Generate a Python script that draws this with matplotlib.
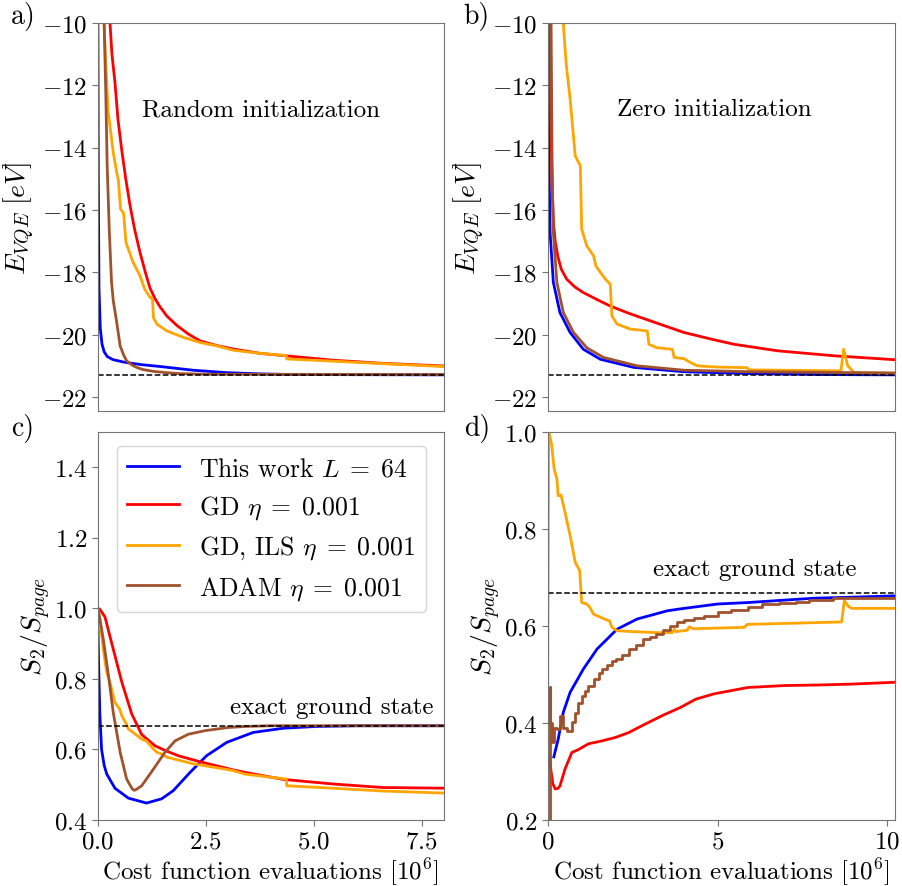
import numpy as np
import matplotlib
matplotlib.use("Agg")
import matplotlib.pyplot as plt

plt.rcParams['font.family'] = 'serif'
plt.rcParams['font.serif'] = ['cmr10']
plt.rcParams['mathtext.fontset'] = 'cm'
plt.rcParams['axes.formatter.use_mathtext'] = True
plt.rcParams['font.size'] = 18

# ground state references
E0 = -21.28
S0 = 2 / 3

# panel a: random initialization, energy
a_blue_x = [0.0, 0.005, 0.015, 0.03, 0.06, 0.1, 0.15, 0.22, 0.35, 0.6, 1.0, 1.5, 2.2, 3.0, 3.8, 4.5, 8.1]
a_blue_y = [-4, -10, -15, -18.5, -19.8, -20.3, -20.55, -20.7, -20.8, -20.88, -20.96, -21.03, -21.14, -21.22, -21.26, -21.28, -21.29]
a_red_x = [0.26, 0.285, 0.33, 0.4, 0.47, 0.555, 0.65, 0.75, 0.86, 0.98, 1.1, 1.21, 1.33, 1.44, 1.6, 1.83, 2.1, 2.37,
           2.76, 3.14, 3.76, 4.37, 5.45, 6.6, 8.1]
a_red_y = [-8, -10, -11.0, -11.9, -13.1, -14.05, -15.0, -15.86, -16.65, -17.36, -17.98, -18.5, -18.85, -19.1, -19.4,
           -19.7, -19.98, -20.2, -20.35, -20.46, -20.6, -20.68, -20.82, -20.92, -21.01]
a_orange_x = [0.13, 0.146, 0.19, 0.245, 0.36, 0.44, 0.48, 0.53, 0.6, 0.655, 0.82, 0.98, 1.09, 1.21, 1.27, 1.29, 1.37,
              1.6, 1.99, 2.37, 2.76, 3.14, 3.76, 4.37, 4.38, 5.45, 6.61, 8.1]
a_orange_y = [-8, -10, -11.37, -12.87, -14.15, -14.79, -15.06, -15.97, -16.1, -17.04, -17.68, -18.11, -18.54, -18.8, -18.85,
              -19.45, -19.66, -19.88, -20.09, -20.25, -20.36, -20.5, -20.6, -20.67, -20.78, -20.85, -20.93, -21.03]
a_brown_x = [0.12, 0.15, 0.19, 0.22, 0.27, 0.32, 0.36, 0.44, 0.52, 0.6, 0.67, 0.8, 0.9, 1.05, 1.3, 1.6, 1.9, 2.5, 8.1]
a_brown_y = [-6, -10, -12.4, -14.6, -16.7, -18.3, -18.9, -19.6, -20.36, -20.65, -20.84, -20.98, -21.05, -21.12, -21.18,
             -21.22, -21.25, -21.27, -21.28]

# panel b: zero initialization, energy
b_blue_x = [0.0, 0.01, 0.03, 0.07, 0.166, 0.36, 0.66, 1.05, 1.55, 2.53, 4.0, 6.0, 8.0, 10.3]
b_blue_y = [-4, -10, -14, -16.72, -18.32, -19.29, -19.93, -20.47, -20.79, -21.05, -21.19, -21.25, -21.28, -21.29]
b_red_x = [0.05, 0.07, 0.1, 0.13, 0.17, 0.22, 0.3, 0.4, 0.56, 0.8, 1.05, 1.5, 1.84, 2.4, 3.03, 4.01, 4.8, 5.49, 6.78,
           8.45, 10.3]
b_red_y = [-4, -10, -13.5, -15.3, -16.4, -17.0, -17.5, -17.9, -18.22, -18.47, -18.65, -18.9, -19.08, -19.32, -19.56,
           -19.93, -20.14, -20.31, -20.52, -20.68, -20.81]
b_orange_x = [0.44, 0.46, 0.51, 0.55, 0.66, 0.81, 0.96, 1.0, 1.15, 1.35, 1.42, 1.55, 1.7, 1.84, 1.89, 2.04, 2.43, 2.93,
              2.98, 3.22, 3.67, 3.72, 4.01, 4.21, 4.4, 4.99, 5.87, 5.92, 8.63, 8.71, 8.83, 9.02, 10.3]
b_orange_y = [-8, -10, -10.83, -11.37, -12.44, -14.26, -14.58, -16.61, -17.15, -17.47, -17.8, -18.0, -18.22, -18.38,
              -19.4, -19.66, -19.82, -19.88, -20.31, -20.42, -20.47, -20.73, -20.77, -20.9, -21.0, -21.04, -21.06,
              -21.13, -21.16, -20.47, -21.0, -21.22, -21.24]
b_brown_x = [0.05, 0.1, 0.13, 0.166, 0.27, 0.46, 0.76, 1.15, 1.64, 2.63, 4.0, 6.0, 8.0, 10.3]
b_brown_y = [-4, -10, -14.5, -16.72, -18.32, -19.29, -19.93, -20.42, -20.73, -21.0, -21.14, -21.19, -21.21, -21.23]

# panel c: random initialization, entanglement
c_blue_x = [0.0, 0.02, 0.05, 0.09, 0.15, 0.21, 0.4, 0.71, 1.13, 1.48, 1.75, 2.14, 2.52, 2.99, 3.6, 4.3, 5.07, 6.0, 8.1]
c_blue_y = [1.0, 0.85, 0.7, 0.6, 0.555, 0.53, 0.49, 0.462, 0.448, 0.46, 0.483, 0.535, 0.582, 0.62, 0.648, 0.66, 0.665,
            0.667, 0.667]
c_red_x = [0.0, 0.05, 0.17, 0.32, 0.56, 0.79, 1.02, 1.33, 1.6, 1.87, 2.37, 3.14, 3.41, 4.3, 5.45, 6.61, 8.1]
c_red_y = [1.0, 0.997, 0.975, 0.903, 0.79, 0.7, 0.642, 0.61, 0.595, 0.582, 0.565, 0.542, 0.535, 0.515, 0.502, 0.492, 0.49]
c_orange_x = [0.0, 0.05, 0.13, 0.21, 0.285, 0.36, 0.4, 0.51, 0.56, 0.67, 0.71, 0.82, 1.02, 1.13, 1.29, 1.37, 1.48, 1.6,
              2.25, 2.37, 3.14, 3.41, 4.37, 4.38, 5.45, 6.61, 8.1]
c_orange_y = [1.0, 0.97, 0.884, 0.818, 0.79, 0.752, 0.733, 0.714, 0.695, 0.67, 0.658, 0.648, 0.629, 0.624, 0.601, 0.592,
              0.587, 0.578, 0.558, 0.556, 0.54, 0.53, 0.516, 0.497, 0.49, 0.482, 0.476]
c_brown_x = [0.0, 0.05, 0.13, 0.25, 0.36, 0.52, 0.67, 0.8, 0.85, 0.9, 1.02, 1.29, 1.56, 1.79, 2.1, 2.48, 3.02, 3.41, 4.0, 8.1]
c_brown_y = [1.0, 0.97, 0.912, 0.809, 0.705, 0.592, 0.516, 0.488, 0.484, 0.487, 0.497, 0.544, 0.592, 0.624, 0.643, 0.653,
             0.662, 0.665, 0.667, 0.667]

# panel d: zero initialization, entanglement
d_blue_x = [0.18, 0.31, 0.46, 0.66, 1.05, 1.45, 2.04, 2.63, 3.52, 3.91, 5.0, 5.89, 6.97, 7.86, 8.95, 10.3]
d_blue_y = [0.33, 0.367, 0.422, 0.463, 0.511, 0.552, 0.593, 0.614, 0.631, 0.635, 0.645, 0.648, 0.653, 0.657, 0.659, 0.662]
d_red_x = [0.05, 0.1, 0.15, 0.22, 0.3, 0.36, 0.51, 0.71, 0.9, 1.2, 1.6, 1.99, 2.38, 2.88, 3.37, 3.91, 4.36, 4.9, 5.89,
           6.97, 7.86, 8.95, 10.3]
d_red_y = [0.33, 0.3, 0.275, 0.264, 0.265, 0.27, 0.305, 0.339, 0.345, 0.357, 0.363, 0.37, 0.38, 0.398, 0.415, 0.432,
           0.449, 0.46, 0.473, 0.477, 0.478, 0.48, 0.484]
d_orange_x = [0.0, 0.03, 0.05, 0.12, 0.19, 0.27, 0.31, 0.39, 0.51, 0.66, 0.81, 0.94, 1.0, 1.15, 1.24, 1.35, 1.64, 1.82,
              1.89, 2.04, 2.53, 3.22, 3.67, 3.72, 3.77, 4.11, 4.16, 4.3, 5.79, 5.87, 6.97, 8.65, 8.73, 8.85, 8.95, 10.3]
d_orange_y = [0.45, 1.0, 0.995, 0.971, 0.923, 0.903, 0.868, 0.87, 0.834, 0.786, 0.731, 0.714, 0.648, 0.645, 0.638, 0.624,
              0.615, 0.61, 0.597, 0.59, 0.588, 0.586, 0.586, 0.593, 0.588, 0.591, 0.598, 0.594, 0.597, 0.603, 0.605,
              0.608, 0.652, 0.64, 0.636, 0.636]
d_brown_x = [0.05, 0.07, 0.08, 0.12, 0.2, 0.27, 0.36, 0.45, 0.56, 0.71, 0.8, 0.9, 1.0, 1.1, 1.2, 1.35, 1.5, 1.6, 1.75,
             1.9, 2.0, 2.2, 2.4, 2.6, 2.8, 3.0, 3.2, 3.4, 3.6, 3.8, 4.0, 4.3, 4.6, 5.0, 5.4, 5.9, 6.3, 6.8, 7.3, 7.7,
             8.4, 10.3]
d_brown_y = [0.2, 0.475, 0.4, 0.36, 0.39, 0.387, 0.415, 0.39, 0.384, 0.401, 0.42, 0.442, 0.455, 0.466, 0.477, 0.49,
             0.502, 0.511, 0.52, 0.528, 0.532, 0.54, 0.552, 0.56, 0.572, 0.578, 0.583, 0.592, 0.6, 0.607, 0.612, 0.617,
             0.62, 0.628, 0.632, 0.638, 0.645, 0.647, 0.65, 0.654, 0.658, 0.659]

labels = [r"This work $L\;=\;64$", r"GD $\eta\;=\;0.001$", r"GD, ILS $\eta\;=\;0.001$", r"ADAM $\eta\;=\;0.001$"]
colors = ["blue", "red", "orange", "sienna"]

fig = plt.figure(figsize=(9.02, 8.87), dpi=100)
axa = fig.add_axes([0.1083, 0.5355, 0.3839, 0.4374])
axb = fig.add_axes([0.6072, 0.5355, 0.3850, 0.4374])
axc = fig.add_axes([0.1083, 0.0744, 0.3839, 0.4378])
axd = fig.add_axes([0.6072, 0.0744, 0.3850, 0.4378])

data = {
    axa: [(a_blue_x, a_blue_y), (a_red_x, a_red_y), (a_orange_x, a_orange_y), (a_brown_x, a_brown_y)],
    axb: [(b_blue_x, b_blue_y), (b_red_x, b_red_y), (b_orange_x, b_orange_y), (b_brown_x, b_brown_y)],
    axc: [(c_blue_x, c_blue_y), (c_red_x, c_red_y), (c_orange_x, c_orange_y), (c_brown_x, c_brown_y)],
    axd: [(d_blue_x, d_blue_y), (d_red_x, d_red_y), (d_orange_x, d_orange_y), (d_brown_x, d_brown_y)],
}

for ax, series in data.items():
    for (x, y), c, lab in zip(series, colors, labels):
        ds = 'steps-post' if (ax is axd and c == "sienna") else 'default'
        ax.plot(x, y, color=c, lw=2, label=lab, drawstyle=ds)
    for sp in ax.spines.values():
        sp.set_color('0.45')
    ax.tick_params(color='0.45', length=4)

for ax in (axa, axb):
    ax.axhline(E0, color='black', ls='--', lw=1.1)
    ax.set_ylim(-22.45, -10)
    ax.set_yticks(np.arange(-22, -9, 2))
    ax.set_ylabel(r"$E_{VQE}\;[eV]$", fontsize=20, labelpad=3)
    ax.tick_params(bottom=False, labelbottom=False)

for ax in (axc, axd):
    ax.axhline(S0, color='black', ls='--', lw=1.1)
    ax.set_ylabel(r"$S_2/S_{page}$", fontsize=20, labelpad=1)
    ax.set_xlabel(r"Cost function evaluations $[10^6]$", labelpad=2)

axa.set_xlim(0, 8.02)
axc.set_xlim(0, 8.02)
axb.set_xlim(0, 10.22)
axd.set_xlim(0, 10.22)

axc.set_ylim(0.4, 1.5)
axc.set_yticks([0.4, 0.6, 0.8, 1.0, 1.2, 1.4])
axc.set_xticks([0, 2.5, 5.0, 7.5])
axd.set_ylim(0.2, 1.0)
axd.set_yticks([0.2, 0.4, 0.6, 0.8, 1.0])
axd.set_xticks([0, 5, 10])

axa.text(0.472, 0.778, "Random initialization", transform=axa.transAxes, ha='center', va='center')
axb.text(0.479, 0.778, "Zero initialization", transform=axb.transAxes, ha='center', va='center')
axc.text(7.78, 0.72, "exact ground state", ha='right', va='center')
axd.text(9.1, 0.718, "exact ground state", ha='right', va='center')

axc.legend(loc='upper left', bbox_to_anchor=(0.056, 0.963), borderaxespad=0, fontsize=18.5)

fig.text(0.012, 0.981, "a)", va='center', fontsize=20)
fig.text(0.514, 0.981, "b)", va='center', fontsize=20)
fig.text(0.012, 0.517, "c)", va='center', fontsize=20)
fig.text(0.514, 0.517, "d)", va='center', fontsize=20)

fig.savefig("out.png", dpi=100)
